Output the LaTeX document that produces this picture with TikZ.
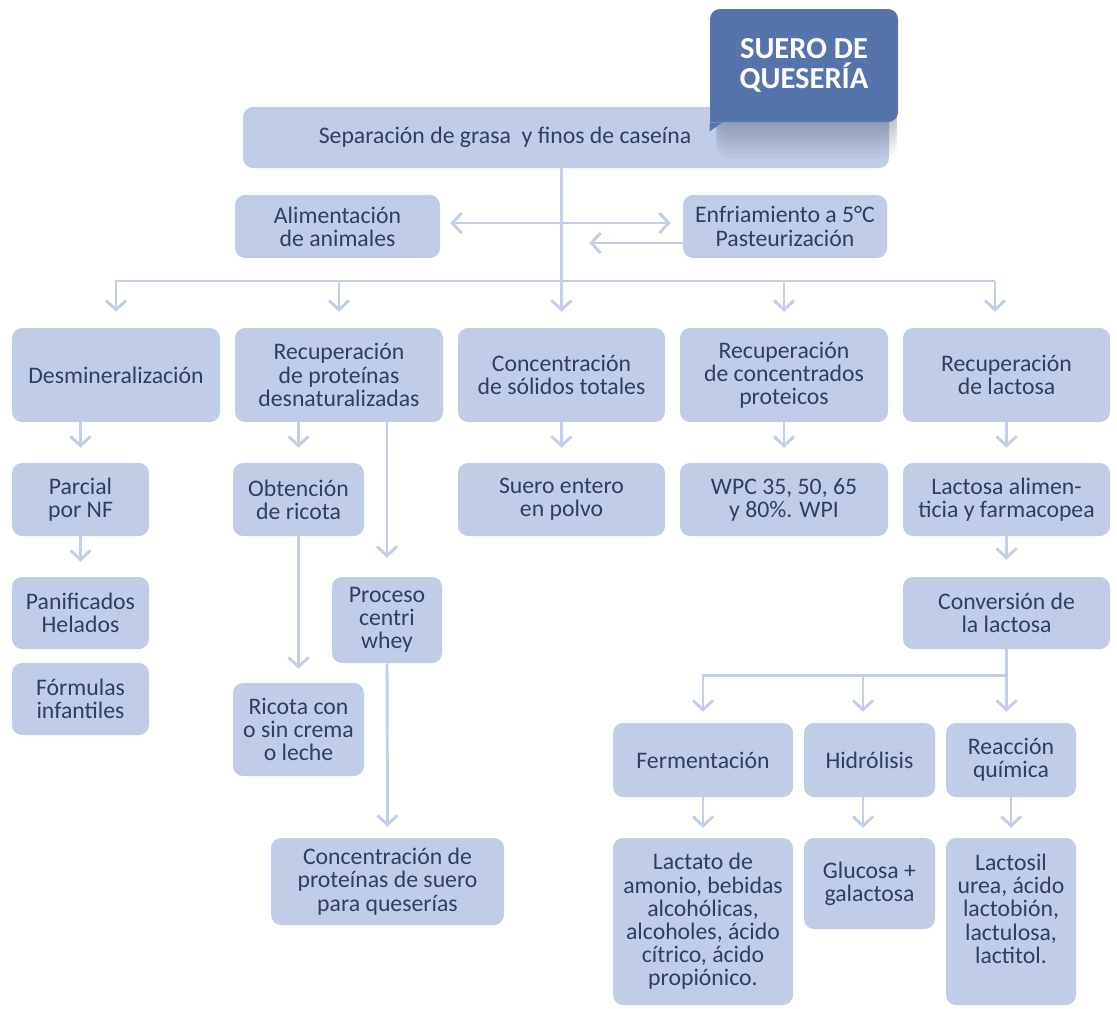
\documentclass[tikz,border=0pt]{standalone}
\usepackage{fontspec}
\setmainfont{Carlito}
\usetikzlibrary{arrows.meta,calc}
\definecolor{boxc}{RGB}{193,204,231}
\definecolor{linec}{RGB}{196,206,232}
\definecolor{txtc}{RGB}{47,63,97}
\definecolor{titlec}{RGB}{84,116,171}
\definecolor{shadc}{RGB}{50,60,90}
\newcommand\mkbox[6]{%
  \pgfmathsetmacro\bxw{(#4-#2)*0.75}%
  \pgfmathsetmacro\bxh{(#5-#3)*0.75}%
  \node[box, minimum width=\bxw pt, minimum height=\bxh pt] (#1) at ({(#2+#4)/2},{(#3+#5)/2}) {#6};}
\begin{document}
\begin{tikzpicture}[x=0.75pt,y=-0.75pt,
  box/.style={fill=boxc, rounded corners=7.5pt, text=txtc, align=center, inner sep=0pt,
    font=\fontsize{17.8}{17.4}\selectfont},
  conn/.style={draw=linec, line width=2.2pt},
  arr/.style={conn, -{Straight Barb[length=7pt,width=15pt]}},
  arrboth/.style={conn, {Straight Barb[length=7pt,width=15pt]}-{Straight Barb[length=7pt,width=15pt]}},
  titlebox/.style={fill=titlec, rounded corners=7.5pt, text=white, align=center, inner sep=0pt,
    font=\fontsize{22.9}{22.5}\selectfont\bfseries},
 ]
\useasboundingbox[fill=white] (0,0) rectangle (1117,1008);

% boxes
\mkbox{sep}{243}{107}{889}{168}{Separación de grasa~ y finos de caseína\hspace{91.5pt}\mbox{}}
\mkbox{alim}{235}{195}{440}{258}{Alimentación\\de animales}
\mkbox{enfr}{683}{195}{887}{258}{Enfriamiento a 5°C\\Pasteurización}
\mkbox{desm}{12}{328}{220}{422}{Desmineralización}
\mkbox{recp}{235}{328}{443}{422}{Recuperación\\de proteínas\\desnaturalizadas}
\mkbox{conc}{458}{328}{665}{422}{Concentración\\de sólidos totales}
\mkbox{recc}{680}{328}{888}{422}{Recuperación\\de concentrados\\proteicos}
\mkbox{recl}{903}{328}{1110}{422}{Recuperación\\de lactosa}
\mkbox{parc}{12}{463}{149}{536}{Parcial\\por NF}
\mkbox{obte}{233}{463}{364}{536}{Obtención\\de ricota}
\mkbox{suer}{458}{463}{665}{536}{Suero entero\\en polvo}
\mkbox{wpc}{680}{463}{888}{536}{WPC 35, 50, 65\\y 80\%. WPI}
\mkbox{lali}{903}{463}{1110}{536}{Lactosa alimen-\\ticia y farmacopea}
\mkbox{pani}{12}{577}{149}{649}{Panificados\\Helados}
\mkbox{form}{12}{663}{149}{735}{Fórmulas\\infantiles}
\mkbox{proc}{332}{577}{442}{663}{Proceso\\centri\\whey}
\mkbox{conv}{903}{577}{1110}{649}{Conversión de\\la lactosa}
\mkbox{rico}{233}{683}{364}{776}{Ricota con\\o sin crema\\o leche}
\mkbox{ferm}{613}{723}{793}{797}{Fermentación}
\mkbox{hidr}{804}{723}{935}{797}{Hidrólisis}
\mkbox{reac}{946}{723}{1076}{797}{Reacción\\química}
\mkbox{cprot}{271}{838}{504}{925}{Concentración de\\proteínas de suero\\para queserías}
\mkbox{lact}{613}{838}{793}{1005}{Lactato de\\amonio, bebidas\\alcohólicas,\\alcoholes, ácido\\cítrico, ácido\\propiónico.}
\mkbox{gluc}{804}{838}{935}{929}{Glucosa +\\galactosa}
\mkbox{lcsl}{946}{838}{1076}{1005}{Lactosil\\urea, ácido\\lactobión,\\lactulosa,\\lactitol.\\[2pt]\mbox{}}

% connectors
\coordinate (bl) at (116,281);
\coordinate (br) at (995,281);
\coordinate (reclin) at ($(recl.north)+(0,-16)$);
\draw[arr] (sep.south -| conc.north) -- ($(conc.north)+(0,-16)$);
\draw[arr] (br) -- (bl) -- ($(desm.north)+(0,-16)$);
\draw[arr] (br) -- (br |- reclin);
\draw[arr] (recp.north |- bl) -- ($(recp.north)+(0,-16)$);
\draw[arr] (recc.north |- bl) -- ($(recc.north)+(0,-16)$);
\draw[arrboth] ($(alim.east)+(10,-3.5)$) -- ($(enfr.west)+(-12,-3.5)$);
\draw[arr] ($(enfr.west)+(0,16.5)$) -- ($(alim.east)+(149,16.5)$);

\draw[arr] (desm.south -| parc.north) -- ($(parc.north)+(0,-15)$);
\draw[arr] (parc.south) -- ($(pani.north)+(0,-15)$);
\draw[arr] (recp.south -| obte.north) -- ($(obte.north)+(0,-15)$);
\draw[arr] (recp.south -| proc.north) -- ($(proc.north)+(0,-19)$);
\draw[arr] (obte.south) -- ($(rico.north)+(0,-14)$);
\draw[arr] (proc.south) -- ($(cprot.north)+(0,-11)$);
\draw[arr] (conc.south) -- ($(suer.north)+(0,-15)$);
\draw[arr] (recc.south) -- ($(wpc.north)+(0,-15)$);
\draw[arr] (recl.south) -- ($(lali.north)+(0,-15)$);
\draw[arr] (lali.south) -- ($(conv.north)+(0,-17)$);

\coordinate (cj) at ($(conv.south)+(0,26)$);
\coordinate (reacin) at ($(reac.north)+(0,-11)$);
\draw[arr] (conv.south) -- (conv.south |- reacin);
\draw[arr] (cj) -- (cj -| ferm.north) -- ($(ferm.north)+(0,-11)$);
\draw[arr] ($(hidr.north |- cj)+(-6.5,0)$) -- ($(hidr.north)+(-6.5,-11)$);
\draw[arr] (ferm.south) -- ($(lact.north)+(0,-10)$);
\draw[arr] ($(hidr.south)+(-6.5,0)$) -- ($(gluc.north)+(-6.5,-10)$);
\draw[arr] (reac.south) -- ($(lcsl.north)+(0,-10)$);

% title bubble with soft shadow
\foreach \k in {0,...,7}{
  \fill[shadc, opacity=0.045, rounded corners=10pt] (716,24) rectangle (897,{126+4.5*\k});
}
\node[titlebox, minimum width=141pt, minimum height=84.75pt] (title) at (804,65.5) {SUERO DE\\QUESERÍA};
\fill[titlec] (title.south west) -- ($(title.south west)+(0,9)$) -- ($(title.south west)+(13,0)$) -- cycle;
\fill[titlec] ($(title.south west)+(0,-14)$) rectangle ($(title.south west)+(13,0)$);
\end{tikzpicture}
\end{document}
